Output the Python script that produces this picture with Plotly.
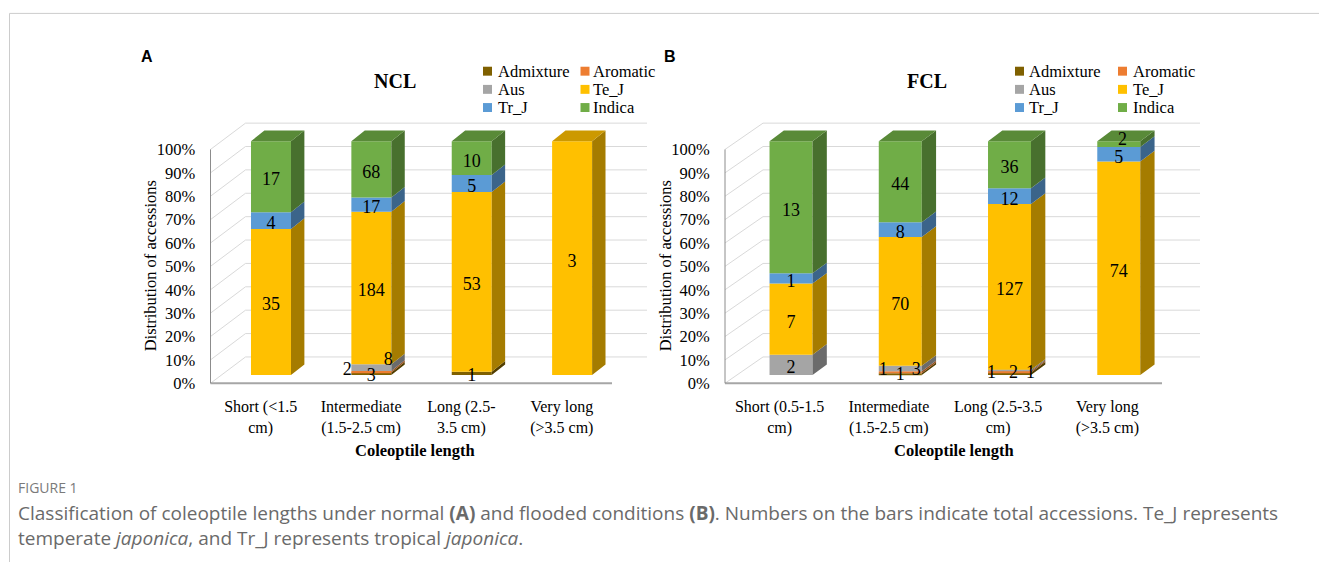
import plotly.graph_objects as go

W, H = 1319, 566

# ---------------- data ----------------
groups = ["Admixture", "Aromatic", "Aus", "Te_J", "Tr_J", "Indica"]

ncl_categories = ["Short (<1.5<br>cm)", "Intermediate<br>(1.5-2.5 cm)",
                  "Long (2.5-<br>3.5 cm)", "Very long<br>(>3.5 cm)"]
fcl_categories = ["Short (0.5-1.5<br>cm)", "Intermediate<br>(1.5-2.5 cm)",
                  "Long (2.5-3.5<br>cm)", "Very long<br>(>3.5 cm)"]

ncl_admixture = [0, 3, 1, 0]
ncl_aromatic = [0, 2, 0, 0]
ncl_aus = [0, 8, 0, 0]
ncl_te_j = [35, 184, 53, 3]
ncl_tr_j = [4, 17, 5, 0]
ncl_indica = [17, 68, 10, 0]

fcl_admixture = [0, 1, 2, 0]
fcl_aromatic = [0, 1, 1, 0]
fcl_aus = [2, 3, 1, 0]
fcl_te_j = [7, 70, 127, 74]
fcl_tr_j = [1, 8, 12, 5]
fcl_indica = [13, 44, 36, 2]

y_tick_values = [0, 10, 20, 30, 40, 50, 60, 70, 80, 90, 100]
y_tick_labels = ["0%", "10%", "20%", "30%", "40%", "50%", "60%", "70%", "80%", "90%", "100%"]

# ---------------- style ----------------
group_colors = ["#7f6000", "#ed7d31", "#a5a5a5", "#ffc000", "#5b9bd5", "#70ad47"]
SERIF = "Liberation Serif"
SANS = "Liberation Sans"
CAPTION_FONT = "Open Sans"


def shade(hexcolor, f):
    r, g, b = int(hexcolor[1:3], 16), int(hexcolor[3:5], 16), int(hexcolor[5:7], 16)
    return f"rgb({int(r * f)},{int(g * f)},{int(b * f)})"


Y0_PX, Y100_PX = 386.0, 150.5
KY = (Y0_PX - Y100_PX) / 100.0
TOP_PX = 105.0
PAD = 6.0
LABEL_SHIFT_PX = 4.0  # visual centring of digit labels

panels = [
    dict(title="NCL", letter="A", cats=ncl_categories,
         series=[ncl_admixture, ncl_aromatic, ncl_aus, ncl_te_j, ncl_tr_j, ncl_indica],
         xa="x", ya="y", x0=210.5, x1=612.0, bar_w=40.0,
         off=(10.3, 8.3), depth=(13.4, 10.7), wall=(35.0, 26.5), right_extra=50.0,
         title_pos=(395, 81.7), letter_pos=(147, 57.3),
         ytitle_x=150, xtitle_x=415,
         legend_sq=(487.5, 585.0), legend_tx=(497.0, 592.0),
         nudges={(1, 1): (-24, -5), (1, 0): (0, -1), (1, 2): (17, -11), (2, 0): (0, -1)}),
    dict(title="FCL", letter="B", cats=fcl_categories,
         series=[fcl_admixture, fcl_aromatic, fcl_aus, fcl_te_j, fcl_tr_j, fcl_indica],
         xa="x2", ya="y2", x0=725.0, x1=1162.0, bar_w=43.0,
         off=(11.4, 8.3), depth=(14.3, 10.7), wall=(38.0, 26.5), right_extra=50.0,
         title_pos=(927, 81.7), letter_pos=(669.5, 57.3),
         ytitle_x=665, xtitle_x=954,
         legend_sq=(1019.5, 1122.5), legend_tx=(1028.0, 1132.0),
         nudges={(1, 1): (-17, -5.5), (1, 0): (0, -2.4), (1, 2): (16, -2),
                 (2, 1): (-18, -2.7), (2, 0): (4, -4.7), (2, 2): (21, -1.4),
                 (3, 5): (3.7, -8)}),
]
legend_rows = [71.7, 90.0, 108.3]

fig = go.Figure()
shapes = []
annotations = []


def px_x(p):
    return p / W


def px_y(p):
    return 1 - p / H


def note(text, x, y, size, family=SERIF, color="black", xanchor="center", angle=0):
    annotations.append(dict(text=text, x=px_x(x), y=px_y(y), xref="paper", yref="paper",
                            xanchor=xanchor, yanchor="middle", showarrow=False,
                            textangle=angle, borderpad=0,
                            font=dict(family=family, size=size, color=color)))


for pi, P in enumerate(panels):
    cw = (P["x1"] - P["x0"]) / 4.0
    xa, ya = P["xa"], P["ya"]
    offx, offy = P["off"][0] / cw, P["off"][1] / KY
    ddx, ddy = P["depth"][0] / cw, P["depth"][1] / KY
    wdx, wdy = P["wall"][0] / cw, P["wall"][1] / KY
    bw = P["bar_w"] / cw
    ncat = len(P["cats"])
    totals = [sum(s[i] for s in P["series"]) for i in range(ncat)]
    pct = [[s[i] / totals[i] * 100.0 for i in range(ncat)] for s in P["series"]]

    # back wall gridlines and side wall diagonals
    for v in y_tick_values:
        shapes.append(dict(type="line", xref=xa, yref=ya, x0=wdx, x1=ncat + wdx,
                           y0=v + wdy, y1=v + wdy, line=dict(color="#d9d9d9", width=1), layer="below"))
        shapes.append(dict(type="line", xref=xa, yref=ya, x0=0, x1=wdx,
                           y0=v, y1=v + wdy, line=dict(color="#d9d9d9", width=1), layer="below"))
    # front axis lines
    shapes.append(dict(type="line", xref=xa, yref=ya, x0=0, x1=ncat, y0=0, y1=0,
                       line=dict(color="#a6a6a6", width=2), layer="above"))
    shapes.append(dict(type="line", xref=xa, yref=ya, x0=0, x1=0, y0=0, y1=100,
                       line=dict(color="#8c8c8c", width=1), layer="above"))

    centers = [i + 0.5 + offx for i in range(ncat)]
    cum = [0.0] * ncat
    seg = {}
    for g in range(len(groups)):
        bases = [cum[i] + offy for i in range(ncat)]
        fig.add_trace(go.Bar(x=centers, y=pct[g], base=bases, width=bw,
                             marker=dict(color=group_colors[g], line=dict(width=0)),
                             name=groups[g], showlegend=False, xaxis=xa, yaxis=ya,
                             hoverinfo="skip"))
        for i in range(ncat):
            if P["series"][g][i] > 0:
                seg[(i, g)] = (cum[i], cum[i] + pct[g][i])
        cum = [cum[i] + pct[g][i] for i in range(ncat)]

    # side faces
    for g in range(len(groups)):
        xs, ys = [], []
        for i in range(ncat):
            if (i, g) in seg:
                b, t = seg[(i, g)]
                xr = centers[i] + bw / 2
                xs += [xr, xr + ddx, xr + ddx, xr, xr, None]
                ys += [b + offy, b + offy + ddy, t + offy + ddy, t + offy, b + offy, None]
        if xs:
            fig.add_trace(go.Scatter(x=xs, y=ys, mode="lines", fill="toself",
                                     fillcolor=shade(group_colors[g], 0.65),
                                     line=dict(width=0, color=shade(group_colors[g], 0.65)),
                                     showlegend=False, hoverinfo="skip", xaxis=xa, yaxis=ya))
    # top faces
    for g in range(len(groups)):
        xs, ys = [], []
        for i in range(ncat):
            top_g = max(gg for gg in range(len(groups)) if (i, gg) in seg)
            if top_g == g:
                t = seg[(i, g)][1] + offy
                xl, xr = centers[i] - bw / 2, centers[i] + bw / 2
                xs += [xl, xl + ddx, xr + ddx, xr, xl, None]
                ys += [t, t + ddy, t + ddy, t, t, None]
        if xs:
            fig.add_trace(go.Scatter(x=xs, y=ys, mode="lines", fill="toself",
                                     fillcolor=shade(group_colors[g], 0.8),
                                     line=dict(width=0, color=shade(group_colors[g], 0.8)),
                                     showlegend=False, hoverinfo="skip", xaxis=xa, yaxis=ya))
    # data labels
    lx, ly, lt = [], [], []
    for (i, g), (b, t) in seg.items():
        nx, ny = P["nudges"].get((i, g), (0, 0))
        lx.append(centers[i] + nx / cw)
        ly.append((b + t) / 2 + offy - (ny + LABEL_SHIFT_PX) / KY)
        lt.append(str(P["series"][g][i]))
    fig.add_trace(go.Scatter(x=lx, y=ly, text=lt, mode="text", textposition="middle center",
                             textfont=dict(family=SERIF, size=18, color="black"),
                             cliponaxis=False, showlegend=False, hoverinfo="skip",
                             xaxis=xa, yaxis=ya))

    # axes
    xdom = [px_x(P["x0"] - PAD), px_x(P["x1"] + P["right_extra"])]
    ydom = [px_y(Y0_PX + PAD), px_y(TOP_PX)]
    xr_ = [-PAD / cw, (P["x1"] + P["right_extra"] - P["x0"]) / cw]
    yr_ = [-PAD / KY, (Y0_PX - TOP_PX) / KY]
    suffix = "" if pi == 0 else "2"
    fig.update_layout(**{
        "xaxis" + suffix: dict(domain=xdom, range=xr_, anchor="y" + suffix,
                               tickvals=[i + 0.5 for i in range(ncat)], ticktext=P["cats"],
                               tickfont=dict(family=SERIF, size=16, color="black"),
                               showgrid=False, zeroline=False, showline=False,
                               ticks="outside", ticklen=3, tickcolor="rgba(0,0,0,0)"),
        "yaxis" + suffix: dict(domain=ydom, range=yr_, anchor="x" + suffix,
                               tickvals=y_tick_values, ticktext=y_tick_labels,
                               tickfont=dict(family=SERIF, size=16.5, color="black"),
                               showgrid=False, zeroline=False, showline=False,
                               ticks="outside", ticklen=5, tickcolor="rgba(0,0,0,0)"),
    })

    # titles
    note("<b>" + P["title"] + "</b>", P["title_pos"][0], P["title_pos"][1], 20)
    note("<b>" + P["letter"] + "</b>", P["letter_pos"][0], P["letter_pos"][1], 16, family=SANS)
    note("Distribution of accessions", P["ytitle_x"], (Y0_PX + Y100_PX) / 2, 16.5, angle=-90)
    note("<b>Coleoptile length</b>", P["xtitle_x"], 453.5, 16.5)
    # legend (3 rows x 2 columns)
    for g in range(len(groups)):
        row, col = g // 2, g % 2
        sx = P["legend_sq"][col]
        sy = legend_rows[row]
        shapes.append(dict(type="rect", xref="paper", yref="paper",
                           x0=px_x(sx - 4.5), x1=px_x(sx + 4.5),
                           y0=px_y(sy + 4.5), y1=px_y(sy - 4.5),
                           fillcolor=group_colors[g], line=dict(width=0)))
        note(groups[g], P["legend_tx"][col], sy, 16.5, xanchor="left")

# frame
shapes.append(dict(type="line", xref="paper", yref="paper", x0=px_x(9.5), x1=1,
                   y0=px_y(13.5), y1=px_y(13.5), line=dict(color="#cccccc", width=1)))
shapes.append(dict(type="line", xref="paper", yref="paper", x0=px_x(9.5), x1=px_x(9.5),
                   y0=px_y(13.5), y1=0, line=dict(color="#cccccc", width=1)))

# caption
note("FIGURE 1", 17, 491, 14, family=CAPTION_FONT, color="#7a7a7a", xanchor="left")
note("Classification of coleoptile lengths under normal <b>(A)</b> and flooded conditions "
     "<b>(B)</b>. Numbers on the bars indicate total accessions. Te_J represents",
     17, 516.5, 19, family=CAPTION_FONT, color="#6a6a6a", xanchor="left")
note("temperate <i>japonica</i>, and Tr_J represents tropical <i>japonica</i>.",
     17, 541.5, 19, family=CAPTION_FONT, color="#6a6a6a", xanchor="left")

fig.update_layout(width=W, height=H, autosize=False, margin=dict(l=0, r=0, t=0, b=0),
                  paper_bgcolor="white", plot_bgcolor="rgba(0,0,0,0)",
                  barmode="overlay", showlegend=False,
                  shapes=shapes, annotations=annotations)

fig.write_html("out.html")
